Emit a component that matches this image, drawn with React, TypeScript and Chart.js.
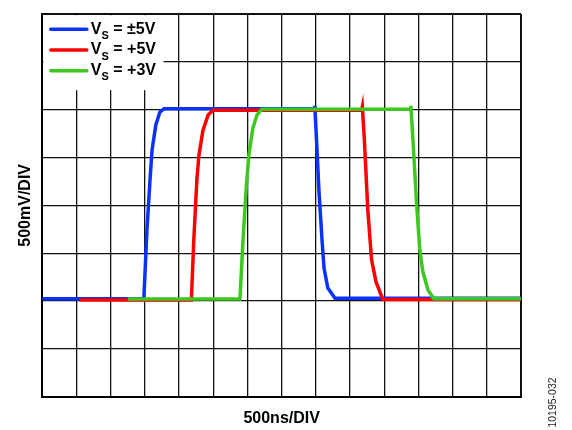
import React, { useEffect, useRef } from "react";
import { Chart, registerables } from "chart.js";

Chart.register(...registerables);

// x in time divisions (500ns/DIV), y in voltage divisions (500mV/DIV)
const blueX = [0, 2.97, 3.06, 3.15, 3.21, 3.32, 3.44, 3.56, 7.95, 7.97, 8.02, 8.09, 8.18, 8.24, 8.35, 8.56, 14];
const blueY = [2.05, 2.05, 3.48, 4.53, 5.16, 5.68, 5.95, 6.02, 6.02, 6.08, 5.37, 4.32, 3.28, 2.69, 2.27, 2.06, 2.06];
const redX = [1.1, 4.36, 4.43, 4.52, 4.58, 4.7, 4.85, 4.99, 9.34, 9.36, 9.42, 9.52, 9.63, 9.76, 9.96, 14];
const redY = [2.02, 2.02, 3.27, 4.53, 5.05, 5.57, 5.89, 5.99, 5.99, 6.06, 5.37, 3.9, 2.86, 2.4, 2.03, 2.03];
const greenX = [2.5, 5.78, 5.87, 5.96, 6.04, 6.16, 6.28, 6.42, 10.76, 10.78, 10.84, 10.94, 11.04, 11.13, 11.28, 11.45, 14];
const greenY = [2.04, 2.04, 3.27, 4.32, 5.05, 5.62, 5.89, 6.01, 6.01, 6.08, 5.37, 4.11, 3.07, 2.61, 2.23, 2.05, 2.05];

const seriesLabels = ["±5V", "+5V", "+3V"];
const seriesColors = ["#0a32ff", "#ff0000", "#3cc81e"];
const xTitle = "500ns/DIV";
const yTitle = "500mV/DIV";
const figureId = "10195-032";

const FONT = '"Liberation Sans", Arial, sans-serif';

const toPoints = (xs: number[], ys: number[]) => xs.map((x, i) => ({ x, y: ys[i] }));

const overlayPlugin = {
  id: "overlay",
  afterDraw(chart: any) {
    const { ctx, chartArea } = chart;
    const l = chartArea.left;
    const t = chartArea.top;
    ctx.save();
    // legend box
    ctx.fillStyle = "#ffffff";
    ctx.fillRect(l + 1.2, t + 1.2, 120, 75);
    for (let i = 0; i < seriesLabels.length; i++) {
      const y = t + 15.3 + i * 20.7;
      ctx.strokeStyle = seriesColors[i];
      ctx.lineWidth = 3.5;
      ctx.lineCap = "round";
      ctx.beginPath();
      ctx.moveTo(l + 8.5, y);
      ctx.lineTo(l + 44.5, y);
      ctx.stroke();
      ctx.fillStyle = "#000";
      ctx.textBaseline = "alphabetic";
      ctx.textAlign = "left";
      let x = l + 48.5;
      const base = y + 4.2;
      ctx.font = `bold 16px ${FONT}`;
      ctx.fillText("V", x, base);
      x += ctx.measureText("V").width;
      ctx.font = `bold 11px ${FONT}`;
      ctx.fillText("S", x, base + 5.5);
      x += ctx.measureText("S").width;
      ctx.font = `bold 16px ${FONT}`;
      ctx.fillText(" = " + seriesLabels[i], x, base);
    }
    // figure id
    ctx.translate(553, 402.5);
    ctx.rotate(-Math.PI / 2);
    ctx.font = `10.5px ${FONT}`;
    ctx.fillStyle = "#222";
    ctx.textAlign = "center";
    ctx.textBaseline = "middle";
    ctx.fillText(figureId, 0, 0);
    ctx.restore();
  },
};

export default function App() {
  const ref = useRef<HTMLCanvasElement | null>(null);
  useEffect(() => {
    if (!ref.current) return;
    const mk = (i: number, xs: number[], ys: number[]) => ({
      label: "VS = " + seriesLabels[i],
      data: toPoints(xs, ys),
      borderColor: seriesColors[i],
      backgroundColor: seriesColors[i],
      borderWidth: 3.5,
      pointRadius: 0,
      tension: 0,
      fill: false,
      order: 3 - i, // later series drawn on top
    });
    const gridWidth = (max: number) => (c: any) =>
      c.tick && (c.tick.value === max || c.tick.value === 0) ? 2 : 1.3;
    const chart = new Chart(ref.current, {
      type: "line",
      data: {
        datasets: [mk(0, blueX, blueY), mk(1, redX, redY), mk(2, greenX, greenY)],
      },
      plugins: [overlayPlugin],
      options: {
        responsive: false,
        animation: false,
        events: [],
        layout: { padding: { left: 0, top: 14, right: 51, bottom: 0 } },
        plugins: { legend: { display: false }, tooltip: { enabled: false } },
        scales: {
          x: {
            type: "linear",
            min: 0,
            max: 14,
            ticks: { display: false, stepSize: 1 },
            grid: { color: "#111", lineWidth: gridWidth(14), drawTicks: false },
            border: { display: true, color: "#000", width: 2 },
            title: {
              display: true,
              text: xTitle,
              color: "#000",
              font: { family: FONT, size: 16, weight: "bold" },
              padding: { top: 12.3, bottom: 1.8 },
            },
          },
          y: {
            type: "linear",
            min: 0,
            max: 8,
            ticks: { display: false, stepSize: 1 },
            grid: { color: "#111", lineWidth: gridWidth(8), drawTicks: false },
            border: { display: true, color: "#000", width: 2 },
            title: {
              display: true,
              text: yTitle,
              color: "#000",
              font: { family: FONT, size: 16, weight: "bold" },
              padding: { top: 16, bottom: 7.1 },
            },
          },
        },
      },
    } as any);
    return () => chart.destroy();
  }, []);
  return (
    <div style={{ position: "absolute", left: 0, top: 0, width: 572, height: 430, background: "#fff" }}>
      <canvas ref={ref} width={572} height={430} />
    </div>
  );
}
